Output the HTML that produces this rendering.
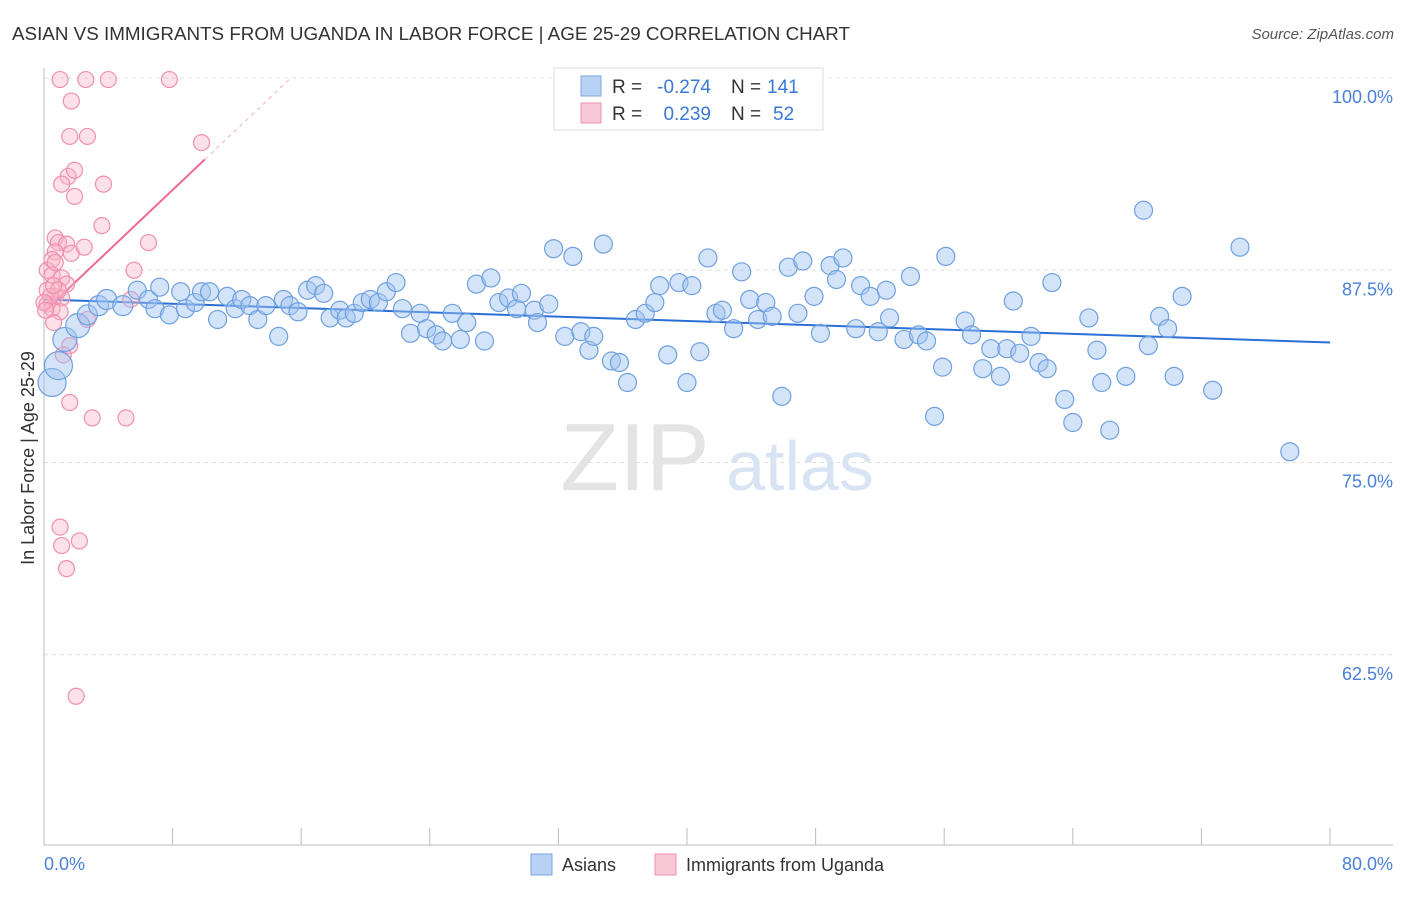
<!DOCTYPE html>
<html><head><meta charset="utf-8"><style>
body{margin:0;background:#fff;font-family:"Liberation Sans",sans-serif;}
svg text{font-family:"Liberation Sans",sans-serif;}
</style></head><body>
<svg id="chart" width="1406" height="892" xmlns="http://www.w3.org/2000/svg">
<text x="12" y="40" font-size="18" fill="#333" textLength="838" lengthAdjust="spacingAndGlyphs">ASIAN VS IMMIGRANTS FROM UGANDA IN LABOR FORCE | AGE 25-29 CORRELATION CHART</text>
<text x="1394" y="39" font-size="15" fill="#555" text-anchor="end" font-style="italic">Source: ZipAtlas.com</text>
<text x="34" y="458" font-size="18" fill="#333" text-anchor="middle" transform="rotate(-90 34 458)">In Labor Force | Age 25-29</text>
<g><text x="635" y="490" font-size="96" fill="#e4e4e4" text-anchor="middle" font-family="Liberation Serif, serif">ZIP</text><text x="800" y="490" font-size="70" fill="#d8e4f4" text-anchor="middle">atlas</text></g>
<g id="grid"></g><g id="axes"></g><g id="trends"></g><g id="pts"></g>
<g>
<rect x="554" y="68" width="269" height="62" fill="#fff" stroke="#ddd"/>
<rect x="581" y="76" width="20" height="20" fill="#b8d2f4" stroke="#7aa6e0"/>
<rect x="581" y="103" width="20" height="20" fill="#f9c8d6" stroke="#f090b0"/>
<text x="612" y="93" font-size="19" fill="#333">R =</text>
<text x="711" y="93" font-size="19" fill="#3a78d8" text-anchor="end">-0.274</text>
<text x="731" y="93" font-size="19" fill="#333">N =</text>
<text x="767" y="93" font-size="19" fill="#3a78d8">141</text>
<text x="612" y="120" font-size="19" fill="#333">R =</text>
<text x="711" y="120" font-size="19" fill="#3a78d8" text-anchor="end">0.239</text>
<text x="731" y="120" font-size="19" fill="#333">N =</text>
<text x="773" y="120" font-size="19" fill="#3a78d8">52</text>
</g>
<g>
<rect x="531" y="854" width="21" height="21" fill="#b8d2f4" stroke="#7aa6e0"/>
<text x="562" y="871" font-size="18" fill="#333">Asians</text>
<rect x="655" y="854" width="21" height="21" fill="#f9c8d6" stroke="#f090b0"/>
<text x="686" y="871" font-size="18" fill="#333">Immigrants from Uganda</text>
</g>
</svg>
<script>
const blueX=[0.5,0.9,1.3,2.1,2.7,3.4,3.9,4.9,5.8,6.5,6.9,7.2,7.8,8.5,8.8,9.4,9.8,10.3,10.8,11.4,11.9,12.3,12.8,13.3,13.8,14.6,14.9,15.3,15.8,16.4,16.9,17.4,17.8,18.4,18.8,19.3,19.8,20.3,20.8,21.3,21.9,22.3,22.8,23.4,23.8,24.4,24.8,25.4,25.9,26.3,26.9,27.4,27.8,28.3,28.9,29.4,29.7,30.5,30.7,31.4,31.7,32.4,32.9,33.4,33.9,34.2,34.8,35.3,35.8,36.3,36.8,37.4,38.0,38.3,38.8,39.5,40.0,40.3,40.8,41.3,41.8,42.2,42.9,43.4,43.9,44.4,44.9,45.3,45.9,46.3,46.9,47.2,47.9,48.3,48.9,49.3,49.7,50.5,50.8,51.4,51.9,52.4,52.6,53.5,53.9,54.4,54.9,55.4,55.9,56.1,57.3,57.7,58.4,58.9,59.5,59.9,60.3,60.7,61.4,61.9,62.4,62.7,63.5,64.0,65.0,65.5,65.8,66.3,67.3,68.4,68.7,69.4,69.9,70.3,70.8,72.7,74.4,77.5];
const blueY=[80.2,81.3,83.0,83.9,84.6,85.2,85.6,85.2,86.2,85.6,85.0,86.4,84.6,86.1,85.0,85.4,86.1,86.1,84.3,85.8,85.0,85.6,85.2,84.3,85.2,83.2,85.6,85.2,84.8,86.2,86.5,86.0,84.4,84.9,84.4,84.7,85.4,85.6,85.4,86.1,86.7,85.0,83.4,84.7,83.7,83.3,82.9,84.7,83.0,84.1,86.6,82.9,87.0,85.4,85.7,85.0,86.0,84.9,84.1,85.3,88.9,83.2,88.4,83.5,82.3,83.2,89.2,81.6,81.5,80.2,84.3,84.7,85.4,86.5,82.0,86.7,80.2,86.5,82.2,88.3,84.7,84.9,83.7,87.4,85.6,84.3,85.4,84.5,79.3,87.7,84.7,88.1,85.8,83.4,87.8,86.9,88.3,83.7,86.5,85.8,83.5,86.2,84.4,83.0,87.1,83.3,82.9,78.0,81.2,88.4,84.2,83.3,81.1,82.4,80.6,82.4,85.5,82.1,83.2,81.5,81.1,86.7,79.1,77.6,84.4,82.3,80.2,77.1,80.6,91.4,82.6,84.5,83.7,80.6,85.8,79.7,89.0,75.7];
const pinkX=[1.0,2.6,4.0,7.8,1.7,1.6,2.7,9.8,1.5,1.9,1.1,3.7,1.9,3.6,0.7,0.9,1.4,6.5,0.7,1.7,2.5,5.6,0.2,0.5,1.1,1.4,0.2,0.7,1.1,0.2,0.5,1.0,2.7,0.6,1.6,1.2,1.6,3.0,5.1,1.0,1.1,2.2,1.4,2.0,0.9,5.4,0.4,0.0,0.1,0.6,0.5,0.7];
const pinkY=[99.9,99.9,99.9,99.9,98.5,96.2,96.2,95.8,93.6,94.0,93.1,93.1,92.3,90.4,89.6,89.3,89.2,89.3,88.7,88.6,89.0,87.5,87.5,87.2,87.0,86.6,86.2,85.8,85.7,85.3,85.0,84.8,84.3,84.1,82.6,82.0,78.9,77.9,77.9,70.8,69.6,69.9,68.1,59.8,86.2,85.6,85.8,85.4,84.9,86.5,88.2,88.0];
const blueTrend=[85.6,-0.035];   // intercept, slope
const pinkTrend=[84.8,0.99];
const yTicks=[100,87.5,75,62.5];
const yTickLabels=["100.0%","87.5%","75.0%","62.5%"];
const xTicks=[0,8,16,24,32,40,48,56,64,72,80];

const NS="http://www.w3.org/2000/svg";
const X=v=>44+v*(1330-44)/80;
const Y=v=>78+(100-v)*15.38;
function mk(tag,attrs,parent){const e=document.createElementNS(NS,tag);for(const k in attrs)e.setAttribute(k,attrs[k]);document.getElementById(parent).appendChild(e);return e;}

yTicks.forEach((t,i)=>{
  const l=mk('line',{x1:44,x2:1393,y1:Y(t),y2:Y(t),stroke:'#e2e2e2','stroke-dasharray':'4,4'},'grid');
  
  
  const tx=mk('text',{x:1393,y:Y(t)+25,'font-size':18,fill:'#4a80d8','text-anchor':'end'},'axes');
  tx.textContent=yTickLabels[i];
  
  
});
const ax=mk('line',{x1:44,x2:44,y1:68,y2:845,stroke:'#bbb'},'axes');


const bx=mk('line',{x1:44,x2:1393,y1:845,y2:845,stroke:'#bbb'},'axes');


xTicks.forEach(t=>{
  const l=mk('line',{x1:X(t),x2:X(t),y1:828,y2:845,stroke:'#bbb'},'axes');
  
  
});
const x0=mk('text',{x:44,y:870,'font-size':18,fill:'#4a80d8'},'axes');x0.textContent="0.0%";


const x1=mk('text',{x:1393,y:870,'font-size':18,fill:'#4a80d8','text-anchor':'end'},'axes');x1.textContent="80.0%";



pinkX.forEach((x,i)=>{
  const c=mk('circle',{cx:X(x),cy:Y(pinkY[i]),r:8,fill:'rgba(248,180,200,0.4)',stroke:'#f08fb0','stroke-width':1.2},'pts');
  
  
});
blueX.forEach((x,i)=>{
  const r=i<2?14:(i<4?12:(i<8?10:9));
  const c=mk('circle',{cx:X(x),cy:Y(blueY[i]),r:r,fill:'rgba(160,196,240,0.45)',stroke:'#6fa0e0','stroke-width':1.2},'pts');
  
  
});
const bt=mk('line',{x1:X(0),y1:Y(blueTrend[0]),x2:X(80),y2:Y(blueTrend[0]+80*blueTrend[1]),stroke:'#2a6fd6','stroke-width':2},'trends');


const pt=mk('line',{x1:X(0),y1:Y(pinkTrend[0]),x2:X(10),y2:Y(pinkTrend[0]+10*pinkTrend[1]),stroke:'#ee6a94','stroke-width':2},'trends');


const xEnd=(100-pinkTrend[0])/pinkTrend[1];
const pd=mk('line',{x1:X(10),y1:Y(pinkTrend[0]+10*pinkTrend[1]),x2:X(xEnd),y2:Y(100),stroke:'#f4b0c4','stroke-width':1,'stroke-dasharray':'4,4'},'trends');


</script>
</body></html>
